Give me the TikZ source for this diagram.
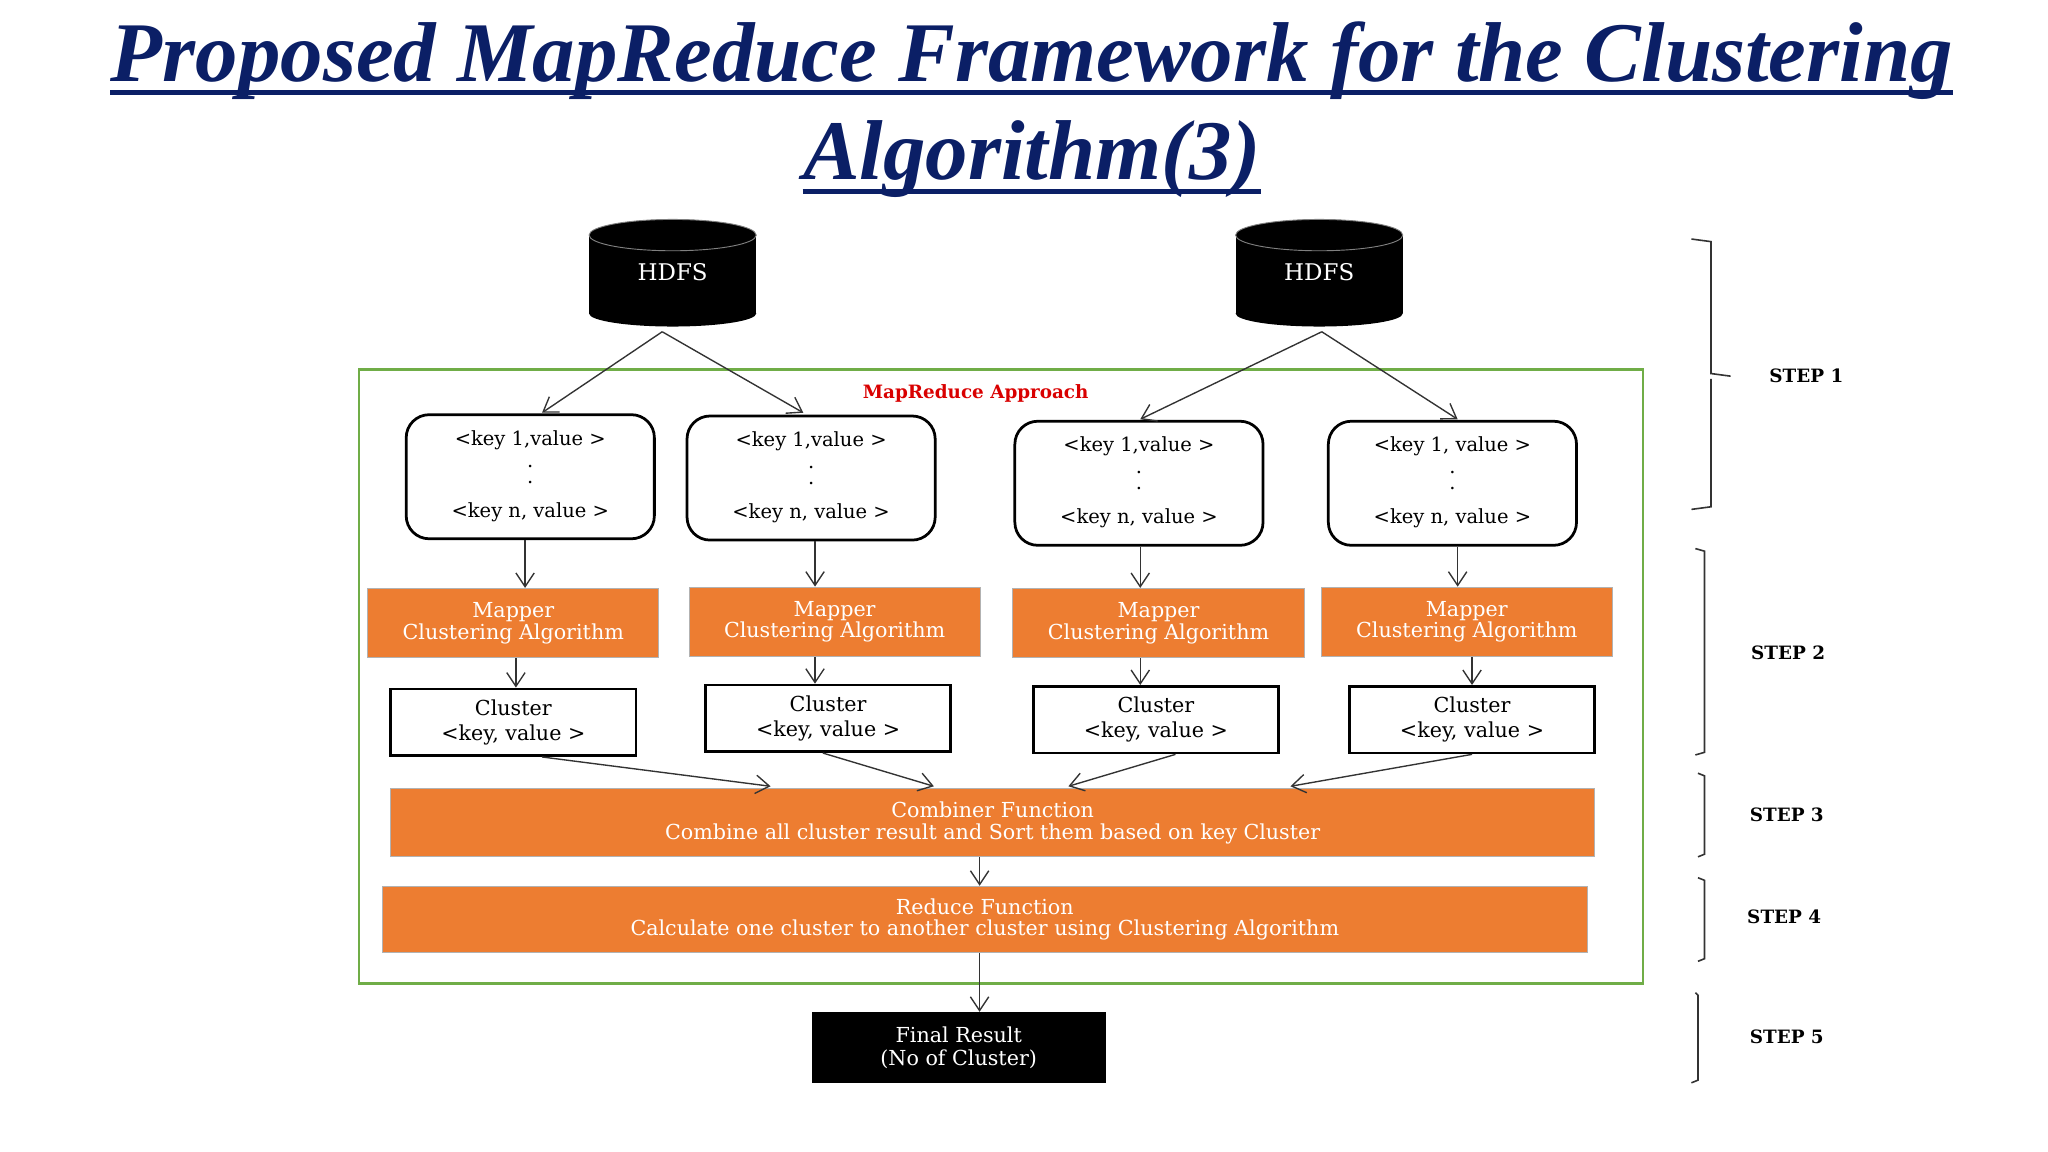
\documentclass[tikz,border=0pt]{standalone}
\usepackage{fontspec}
\setmainfont{Liberation Serif}
\newfontfamily\boxf{DejaVu Serif}
\usetikzlibrary{arrows.meta,shapes.geometric}
\definecolor{navy}{HTML}{0B1F66}
\definecolor{org}{HTML}{ED7D31}
\definecolor{grn}{HTML}{70AD47}
\newcommand{\ul}[1]{\tikz[baseline=(t.base)]{\node[inner sep=0pt] (t) {#1};\draw[line width=2pt,navy] ([yshift=-5pt]t.base west) -- ([yshift=-5pt]t.base east);}}
\begin{document}
\begin{tikzpicture}[x=0.02cm,y=-0.02cm,
  arr/.style={-{Straight Barb[length=6pt,width=8pt]},line width=0.6pt,draw=black!80},
  kv/.style={draw,line width=1.2pt,rounded corners=10pt},
  bt/.style={font=\boxf\fontsize{8.5}{10}\selectfont,align=center},
  orb/.style={draw=black!30,fill=org,text=white,align=center,font=\boxf\fontsize{9}{9.5}\selectfont},
  cl/.style={draw,line width=1.2pt,align=center,font=\boxf\fontsize{9}{11}\selectfont},
  steplbl/.style={font=\boxf\bfseries\fontsize{8}{10}\selectfont},
  br/.style={line width=0.7pt,draw=black!80}]
\useasboundingbox (0,0) rectangle (1568,882);
\node[font=\bfseries\itshape\fontsize{37}{43}\selectfont,text=navy,align=center] (title) at (790,84)
 {\ul{Proposed MapReduce Framework for the Clustering}\\\ul{Algorithm(3)}};
% HDFS
\foreach \n/\x in {h1/515,h2/1010}{
 \fill (\x-64,180) rectangle (\x+64,240);
 \fill (\x,240) ellipse (64 and 10);
 \draw[fill=black,draw=gray] (\x,180) ellipse (64 and 12);
 \node[text=white,font=\boxf\fontsize{10}{12}\selectfont] (\n) at (\x,208) {HDFS};
}
\coordinate (h1b) at (507,254); \coordinate (h2b) at (1012,254);
\draw[grn,line width=1pt] (275,283) rectangle (1258,753);
\node[text=red!85!black,font=\boxf\bfseries\fontsize{8}{10}\selectfont] (mra) at (747,301) {MapReduce Approach};
% key boxes
\foreach \n/\x/\y/\t in {k1/406/365/{1,value},k2/621/366/{1,value},k3/872/370/{1,value},k4/1112/370/{1, value}}{
 \node[kv,minimum width=190*0.02cm,minimum height=95*0.02cm] (\n) at (\x,\y) {};
 \node[bt] at (\x,\y-28) {<key \t\ >};
 \node[bt,font=\boxf\fontsize{8.5}{7}\selectfont] at (\x,\y-2) {.\\.};
 \node[bt] at (\x,\y+27) {<key n, value >};
}
% mappers
\foreach \n/\x/\y in {m1/393/477,m2/639/476,m3/887/477,m4/1123/476}{
 \node[orb,minimum width=223*0.02cm,minimum height=53*0.02cm] (\n) at (\x,\y) {Mapper\\Clustering Algorithm};
}
\foreach \n/\x/\y in {c1/393/553,c2/634/550,c3/885/551,c4/1127/551}{
 \node[cl,minimum width=188*0.02cm,minimum height=51*0.02cm] (\n) at (\x,\y) {Cluster\\<key, value >};
}
\node[orb,minimum width=922*0.02cm,minimum height=52*0.02cm] (comb) at (760,630) {Combiner Function\\Combine all cluster result and Sort them based on key Cluster};
\node[orb,minimum width=922*0.02cm,minimum height=51*0.02cm] (red) at (754,704) {Reduce Function\\Calculate one cluster to another cluster using Clustering Algorithm};
\node[fill=black,text=white,align=center,minimum width=225*0.02cm,minimum height=54*0.02cm,font=\boxf\fontsize{9}{10}\selectfont] (fin) at (734,802) {Final Result\\(No of Cluster)};
% arrows
\draw[arr] (h1b) -- (415,316);
\draw[arr] (h1b) -- (615,316);
\draw[arr] (h2b) -- (873,321);
\draw[arr] (h2b) -- (1116,321);
\draw[arr] (k1.south -| 402,0) -- (m1.north -| 402,0);
\draw[arr] (k2.south -| 624,0) -- (m2.north -| 624,0);
\draw[arr] (k3.south -| 873,0) -- (m3.north -| 873,0);
\draw[arr] (k4.south -| 1116,0) -- (m4.north -| 1116,0);
\draw[arr] (m1.south -| 395,0) -- (c1.north -| 395,0);
\draw[arr] (m2.south -| 624,0) -- (c2.north -| 624,0);
\draw[arr] (m3.south -| 873,0) -- (c3.north -| 873,0);
\draw[arr] (m4.south -| 1127,0) -- (c4.north -| 1127,0);
\draw[arr] (c1.south -| 415,0) -- (590,602);
\draw[arr] (c2.south -| 630,0) -- (715,602);
\draw[arr] (c3.south -| 900,0) -- (818,602);
\draw[arr] (c4.south -| 1127,0) -- (988,602);
\draw[arr] (comb.south -| 750,0) -- (red.north -| 750,0);
\draw[arr] (red.south -| 750,0) -- (fin.north -| 750,0);
% brackets
\draw[br] (1295,183) -- (1310,185) -- (1310,286) -- (1325,288) (1310,290) -- (1310,388) -- (1295,390);
\draw[br] (1298,420) -- (1305,422) -- (1305,576) -- (1298,578);
\draw[br] (1300,592) -- (1305,594) -- (1305,654) -- (1300,656);
\draw[br] (1300,672) -- (1305,674) -- (1305,734) -- (1300,736);
\draw[br] (1298,760) -- (1300,762) -- (1300,827) -- (1295,829);
\node[steplbl] (s1) at (1383,288) {STEP 1};
\node[steplbl] (s2) at (1369,500) {STEP 2};
\node[steplbl] (s3) at (1368,624) {STEP 3};
\node[steplbl] (s4) at (1366,702) {STEP 4};
\node[steplbl] (s5) at (1368,794) {STEP 5};
\end{tikzpicture}
\end{document}
